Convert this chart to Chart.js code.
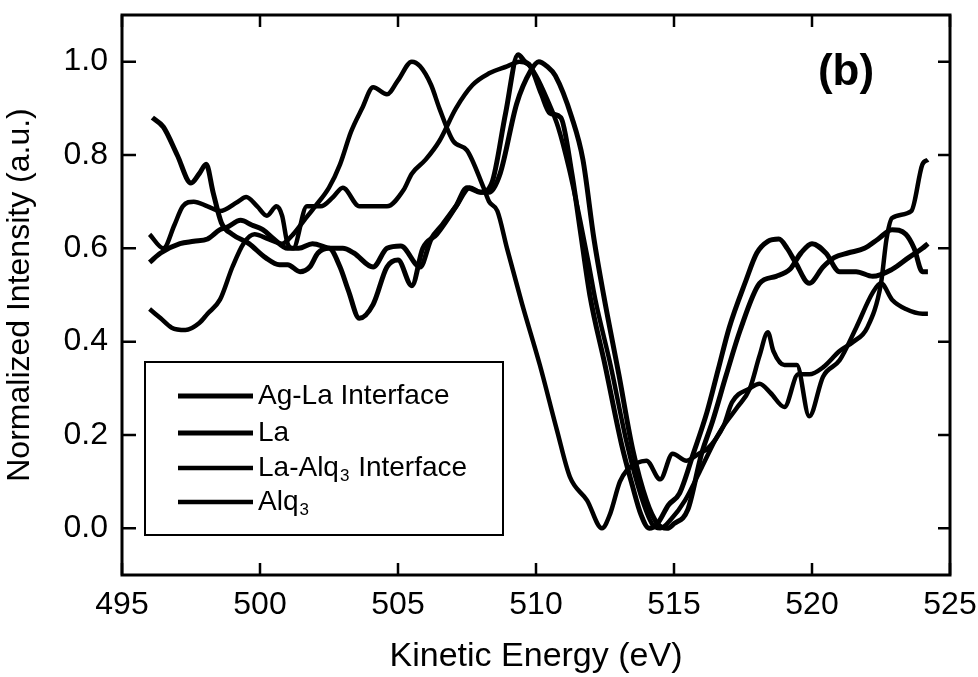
<!DOCTYPE html>
<html>
<head>
<meta charset="utf-8">
<script src="https://cdn.jsdelivr.net/npm/chart.js@4.4.1/dist/chart.umd.min.js"></script>
<style>
  body { margin: 0; background: #fff; }
  #wrap { width: 978px; height: 677px; }
</style>
</head>
<body>
<div id="wrap"><canvas id="xps" width="978" height="677"></canvas></div>
<script>
// series names (digit after "Alq" is drawn as subscript)
const seriesNames = ['Ag-La Interface', 'La', 'La-Alq3 Interface', 'Alq3'];

// Ag-La interface
const agLaX = [496.1, 496.5, 497.0, 497.5, 497.8, 498.05, 498.3, 498.6, 499.0, 499.6, 500.2, 500.7, 501.0, 501.45, 501.8, 502.1, 502.5, 502.9, 503.2, 503.6, 504.1, 504.6, 505.0, 505.5, 505.9, 506.4, 507.1, 507.5, 508.0, 508.4, 508.9, 509.35, 509.6, 509.8, 510.2, 510.5, 510.9, 511.3, 511.6, 511.95, 512.5, 513.1, 513.5, 513.8, 514.1, 514.4, 514.8, 515.2, 515.7, 516.2, 516.6, 517.0, 517.6, 518.0, 518.4, 518.8, 519.1, 519.4, 519.9, 520.4, 520.8, 521.3, 521.9, 522.4, 522.9, 523.4, 523.7, 524.0, 524.2];
const agLaY = [0.88, 0.86, 0.80, 0.74, 0.76, 0.78, 0.72, 0.655, 0.63, 0.61, 0.58, 0.565, 0.565, 0.55, 0.56, 0.59, 0.60, 0.56, 0.51, 0.45, 0.48, 0.56, 0.575, 0.52, 0.60, 0.63, 0.69, 0.73, 0.72, 0.74, 0.89, 1.015, 1.0, 0.99, 0.93, 0.89, 0.88, 0.76, 0.64, 0.50, 0.35, 0.18, 0.09, 0.03, 0.0, 0.01, 0.05, 0.075, 0.16, 0.25, 0.34, 0.43, 0.53, 0.59, 0.615, 0.62, 0.60, 0.57, 0.525, 0.56, 0.58, 0.59, 0.60, 0.62, 0.64, 0.63, 0.60, 0.55, 0.55];

// La
const laX = [496.0, 496.4, 497.1, 497.6, 498.1, 498.55, 498.8, 499.3, 499.7, 500.1, 500.5, 501.0, 501.4, 501.9, 502.6, 503.0, 503.4, 504.1, 504.6, 505.1, 505.8, 506.2, 506.6, 507.1, 507.6, 508.0, 508.3, 508.7, 509.3, 509.8, 510.1, 510.4, 510.7, 511.3, 511.7, 512.1, 512.45, 513.0, 513.5, 514.0, 514.4, 514.75, 515.0, 515.5, 516.0, 516.4, 516.9, 517.4, 518.1, 518.7, 519.2, 519.6, 520.0, 520.5, 521.0, 521.6, 522.2, 522.9, 523.5, 524.0, 524.2];
const laY = [0.57, 0.59, 0.61, 0.615, 0.62, 0.64, 0.645, 0.66, 0.65, 0.64, 0.62, 0.60, 0.60, 0.61, 0.60, 0.60, 0.59, 0.56, 0.60, 0.605, 0.56, 0.62, 0.65, 0.69, 0.73, 0.72, 0.72, 0.76, 0.91, 0.98, 1.0, 0.99, 0.97, 0.88, 0.79, 0.62, 0.50, 0.33, 0.17, 0.06, 0.01, 0.0, 0.01, 0.04, 0.16, 0.23, 0.33, 0.425, 0.525, 0.54, 0.555, 0.59, 0.61, 0.59, 0.55, 0.55, 0.54, 0.555, 0.58, 0.60, 0.61];

// La-Alq3 interface
const laAlqX = [496.0, 496.5, 496.9, 497.2, 497.6, 498.1, 498.55, 499.2, 499.5, 499.9, 500.25, 500.6, 500.8, 501.0, 501.2, 501.7, 502.2, 502.65, 503.0, 503.6, 504.1, 504.6, 505.2, 505.5, 506.0, 506.5, 507.1, 507.7, 508.3, 508.95, 509.4, 509.7, 510.0, 510.4, 510.8, 511.2, 511.6, 511.9, 512.15, 512.7, 513.3, 513.8, 514.2, 514.5, 514.9, 515.4, 516.0, 516.5, 516.8, 517.3, 517.75, 518.1, 518.4, 518.6, 519.0, 519.45, 519.9, 520.4, 521.0, 521.6, 522.2, 522.5, 522.9, 523.4, 524.0, 524.2];
const laAlqY = [0.63, 0.60, 0.65, 0.69, 0.70, 0.69, 0.68, 0.70, 0.71, 0.69, 0.67, 0.69, 0.67, 0.61, 0.60, 0.69, 0.69, 0.71, 0.73, 0.69, 0.69, 0.69, 0.725, 0.76, 0.79, 0.83, 0.90, 0.95, 0.975, 0.99, 1.0, 0.995, 0.97, 0.92, 0.86, 0.77, 0.66, 0.57, 0.49, 0.35, 0.18, 0.07, 0.01, 0.0, 0.02, 0.06, 0.13, 0.19, 0.22, 0.26, 0.30, 0.37, 0.42, 0.38, 0.35, 0.35, 0.24, 0.325, 0.36, 0.43, 0.505, 0.525, 0.49, 0.47, 0.46, 0.46];

// Alq3
const alqX = [496.0, 496.4, 496.8, 497.3, 497.8, 498.1, 498.55, 499.0, 499.4, 499.8, 500.3, 500.8, 501.2, 501.6, 502.0, 502.5, 502.9, 503.3, 503.7, 504.1, 504.6, 505.0, 505.5, 505.8, 506.2, 506.5, 507.0, 507.5, 508.1, 508.3, 508.6, 508.95, 509.5, 510.14, 510.76, 511.23, 511.85, 512.39, 512.68, 513.04, 513.3, 513.65, 514.0, 514.5, 514.95, 515.45, 515.9, 516.2, 516.5, 516.8, 517.1, 517.75, 518.1, 518.5, 519.0, 519.5, 519.9, 520.4, 521.0, 521.5, 522.0, 522.5, 522.7, 522.9, 523.6, 524.0, 524.2];
const alqY = [0.47, 0.45, 0.43, 0.425, 0.44, 0.46, 0.49, 0.56, 0.61, 0.63, 0.62, 0.61, 0.63, 0.66, 0.69, 0.73, 0.78, 0.85, 0.90, 0.945, 0.93, 0.96, 1.0, 0.99, 0.95, 0.90, 0.83, 0.81, 0.73, 0.70, 0.68, 0.60, 0.48, 0.35, 0.21, 0.11, 0.06, 0.0, 0.03, 0.10, 0.125, 0.14, 0.145, 0.105, 0.16, 0.145, 0.16, 0.17, 0.19, 0.22, 0.27, 0.30, 0.31, 0.29, 0.26, 0.33, 0.33, 0.345, 0.38, 0.40, 0.43, 0.525, 0.62, 0.665, 0.68, 0.78, 0.79];

// tick labels
const xTicks = [495, 500, 505, 510, 515, 520, 525];
const yTicks = [0.0, 0.2, 0.4, 0.6, 0.8, 1.0];

const FONT = '"Liberation Sans", Arial, Helvetica, sans-serif';

function pts(xs, ys) { return xs.map((v, i) => ({x: v, y: ys[i]})); }

const lineWidths = [5, 5, 4.5, 4.5];
const allX = [agLaX, laX, laAlqX, alqX];
const allY = [agLaY, laY, laAlqY, alqY];

function drawLabel(ctx, text, x, y, size) {
  // digits are subscripts (Alq3)
  const parts = text.split(/(\d)/);
  let cx = x;
  parts.forEach(p => {
    if (!p) return;
    if (/\d/.test(p)) {
      ctx.font = `${Math.round(size * 0.62)}px ${FONT}`;
      ctx.fillText(p, cx + 1, y + size * 0.3);
      cx += 2;
    } else {
      ctx.font = `${size}px ${FONT}`;
      ctx.fillText(p, cx, y);
    }
    cx += ctx.measureText(p).width;
  });
}

const frameTicks = {
  id: 'frameTicks',
  afterDatasetsDraw(chart) {
    const {ctx, chartArea: a, scales: {x, y}} = chart;
    ctx.save();
    ctx.strokeStyle = '#000';
    ctx.lineWidth = 3;
    ctx.strokeRect(a.left, a.top, a.right - a.left, a.bottom - a.top);
    ctx.lineWidth = 2.5;
    ctx.beginPath();
    x.ticks.forEach(t => {
      const px = x.getPixelForValue(t.value);
      ctx.moveTo(px, a.bottom); ctx.lineTo(px, a.bottom - 12);
      ctx.moveTo(px, a.top); ctx.lineTo(px, a.top + 12);
    });
    y.ticks.forEach(t => {
      const py = y.getPixelForValue(t.value);
      ctx.moveTo(a.left, py); ctx.lineTo(a.left + 14, py);
      ctx.moveTo(a.right, py); ctx.lineTo(a.right - 12, py);
    });
    ctx.stroke();

    // legend box
    const bx = 145, by = 362, bw = 358, bh = 173;
    ctx.fillStyle = '#fff';
    ctx.fillRect(bx, by, bw, bh);
    ctx.lineWidth = 2;
    ctx.strokeRect(bx, by, bw, bh);
    const rows = [396, 433, 468, 502];
    ctx.fillStyle = '#000';
    ctx.textBaseline = 'middle';
    ctx.textAlign = 'left';
    chart.data.datasets.forEach((ds, i) => {
      ctx.lineWidth = ds.borderWidth;
      ctx.beginPath();
      ctx.moveTo(178, rows[i]);
      ctx.lineTo(253, rows[i]);
      ctx.stroke();
      drawLabel(ctx, ds.label, 258, rows[i], 28);
    });

    // panel label
    ctx.font = `bold 44px ${FONT}`;
    ctx.textAlign = 'center';
    ctx.fillText('(b)', 846, 73);
    ctx.restore();
  }
};

new Chart(document.getElementById('xps'), {
  type: 'line',
  data: {
    datasets: seriesNames.map((name, i) => ({
      label: name,
      data: pts(allX[i], allY[i]),
      borderColor: '#000',
      borderWidth: lineWidths[i],
      pointRadius: 0,
      fill: false,
      cubicInterpolationMode: 'monotone'
    }))
  },
  options: {
    responsive: false,
    animation: false,
    layout: { padding: { top: 15, right: 28, left: 0, bottom: 0 } },
    plugins: { legend: { display: false }, tooltip: { enabled: false } },
    scales: {
      x: {
        type: 'linear',
        min: 495, max: 525,
        afterBuildTicks: s => { s.ticks = xTicks.map(v => ({value: v})); },
        afterFit: s => { s.height = 102; s.paddingLeft = 0; s.paddingRight = 0; },
        grid: { display: false, drawTicks: false },
        border: { display: false },
        ticks: { color: '#000', padding: 11, font: { family: FONT, size: 32 }, maxRotation: 0, autoSkip: false },
        title: { display: true, text: 'Kinetic Energy (eV)', color: '#000', padding: 0, font: { family: FONT, size: 34 } }
      },
      y: {
        min: -0.1, max: 1.1,
        afterBuildTicks: s => { s.ticks = yTicks.map(v => ({value: v})); },
        afterFit: s => { s.width = 122; s.paddingTop = 0; s.paddingBottom = 0; },
        grid: { display: false, drawTicks: false },
        border: { display: false },
        ticks: { color: '#000', padding: 14, font: { family: FONT, size: 32 }, callback: v => v.toFixed(1) },
        title: { display: true, text: 'Normalized Intensity (a.u.)', color: '#000', padding: { top: 1, bottom: 0 }, font: { family: FONT, size: 32 } }
      }
    }
  },
  plugins: [frameTicks]
});
</script>
</body>
</html>
